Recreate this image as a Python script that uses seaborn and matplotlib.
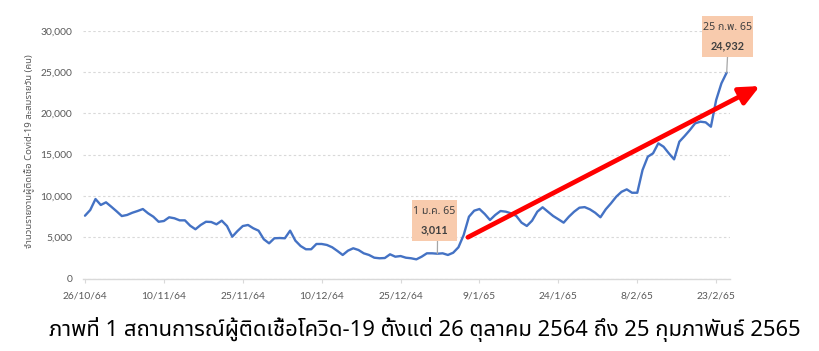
import numpy as np
import pandas as pd
import matplotlib
matplotlib.use("Agg")
import matplotlib.pyplot as plt
import seaborn as sns
from matplotlib import font_manager
from matplotlib.ft2font import FT2Font
from matplotlib.patches import Rectangle

# ---------------- data ----------------
day_index = list(range(123))  # 26 Oct 2021 (26/10/64) .. 25 Feb 2022 (25/2/65)
cases = [
    7610, 8300, 9630, 8910, 9230, 8700, 8150, 7570, 7700, 7970,
    8180, 8420, 7900, 7490, 6880, 6970, 7420, 7300, 7050, 7050,
    6400, 5970, 6490, 6880, 6850, 6570, 7010, 6360, 5070, 5760,
    6360, 6490, 6090, 5800, 4760, 4270, 4880, 4910, 4880, 5800,
    4590, 3940, 3550, 3550, 4190, 4190, 4070, 3790, 3340, 2860,
    3380, 3670, 3460, 3060, 2860, 2530, 2460, 2490, 2940, 2650,
    2730, 2530, 2460, 2330, 2650, 3060, 3060, 3011, 3060, 2860,
    3130, 3790, 5280, 7490, 8220, 8420, 7820, 7090, 7700, 8180,
    8100, 7900, 7580, 6770, 6370, 7010, 8100, 8630, 8100, 7580,
    7180, 6770, 7490, 8100, 8580, 8650, 8380, 7970, 7420, 8380,
    9110, 9910, 10500, 10800, 10390, 10390, 13140, 14750, 15160, 16370,
    15960, 15160, 14430, 16570, 17250, 17980, 18790, 18990, 18910, 18380,
    21610, 23630, 24932,
]
x_tick_days = [0, 15, 30, 45, 60, 75, 90, 105, 120]
x_tick_labels = ["26/10/64", "10/11/64", "25/11/64", "10/12/64", "25/12/64",
                 "9/1/65", "24/1/65", "8/2/65", "23/2/65"]
y_ticks = [0, 5000, 10000, 15000, 20000, 25000, 30000]
callout_days = [67, 122]
callout_dates = ["1 ม.ค. 65", "25 ก.พ. 65"]
y_label = "จำนวนรายงานผู้ติดเชื้อ Covid-19 สะสมรายวัน (คน)"
title = "ภาพที่ 1 สถานการณ์ผู้ติดเชื้อโควิด-19 ตั้งแต่ 26 ตุลาคม 2564 ถึง 25 กุมภาพันธ์ 2565"
trend_start = (72.8, 5000)
trend_end = (128.3, 23300)

df = pd.DataFrame({"day": day_index, "cases": cases})

# ---------------- fonts ----------------
def thai_family():
    pref = ["Noto Sans Thai", "Noto Sans Thai UI", "Noto Sans Thai Looped", "Tahoma",
            "Leelawadee UI", "Loma", "Garuda", "Waree", "Sawasdee", "Umpush",
            "Norasi", "Kinnari", "Laksaman"]
    found = {}
    for f in font_manager.fontManager.ttflist:
        try:
            cm = FT2Font(f.fname).get_charmap()
        except Exception:
            continue
        if 0x0E01 in cm and 0x0E2A in cm and 0x0E4C in cm:
            found.setdefault(f.name, f)
    for p in pref:
        if p in found:
            return p
    return next(iter(found), None)

sns.set_theme(style="white")
thai = thai_family()
base_fams = ["Lato", "DejaVu Sans"]
thai_fams = ([thai] if thai else []) + ["Lato", "DejaVu Sans"]
plt.rcParams["font.family"] = base_fams

W, H = 820, 351
fig = plt.figure(figsize=(W / 100, H / 100), dpi=100)
fig.patch.set_facecolor("white")

def fx(px):
    return px / W

def fy(py):
    return 1 - py / H

ax_left, ax_right, ax_top, ax_bottom = 83.3, 730, 30.7, 278.6
ax = fig.add_axes([fx(ax_left), fy(ax_bottom), fx(ax_right - ax_left), (ax_bottom - ax_top) / H])
ax.set_facecolor("white")

sns.lineplot(data=df, x="day", y="cases", ax=ax, color="#4472C4", linewidth=1.7)

ax.set_xlim(-0.32, 122.63)
ax.set_ylim(0, 30000)
ax.set_xticks(x_tick_days)
ax.set_xticklabels(x_tick_labels)
ax.set_yticks(y_ticks)
ax.set_yticklabels([f"{v:,}" for v in y_ticks])
ax.set_xlabel("")
ax.set_ylabel("")
for s in ["top", "right", "left"]:
    ax.spines[s].set_visible(False)
ax.spines["bottom"].set_color("#d9d9d9")
ax.spines["bottom"].set_linewidth(1.0)
ax.yaxis.grid(True, linestyle=(0, (2.2, 2.2)), color="#d9d9d9", linewidth=0.8)
ax.xaxis.grid(False)
ax.set_axisbelow(True)
ax.tick_params(axis="y", length=0, pad=8, labelsize=7.4, labelcolor="#595959")
ax.tick_params(axis="x", length=3, width=0.8, color="#d9d9d9", direction="out",
               pad=6, labelsize=7.4, labelcolor="#595959", bottom=True)

# trend arrow
ax.annotate("", xy=trend_end, xytext=trend_start, xycoords="data",
            annotation_clip=False,
            arrowprops=dict(arrowstyle="-|>,head_length=12,head_width=5.5",
                            mutation_scale=1, color="#FF0000", lw=3.4,
                            shrinkA=0, shrinkB=0))

# callouts
boxes = [(412, 200, 45, 41), (702, 16, 51, 41)]
for (bx, by, bw, bh), d, lab in zip(boxes, callout_days, callout_dates):
    val = cases[d]
    ax.annotate("", xy=(d, val), xycoords="data",
                xytext=(fx(bx + bw / 2 + (3 if d != 122 else 0)), fy(by + bh)),
                textcoords="figure fraction", annotation_clip=False,
                arrowprops=dict(arrowstyle="-", color="#a6a6a6", lw=0.9,
                                shrinkA=0, shrinkB=0))
    fig.add_artist(Rectangle((fx(bx), fy(by + bh)), fx(bw), bh / H,
                             transform=fig.transFigure, facecolor="#F8CBAD",
                             edgecolor="none", zorder=5))
    fig.text(fx(bx + bw / 2), fy(by + 11.5), lab, ha="center", va="center",
             fontsize=7.6, color="#404040", family=thai_fams, zorder=6,
             fontweight="bold")
    fig.text(fx(bx + bw / 2), fy(by + 29.5), f"{val:,}", ha="center", va="center",
             fontsize=7.8, color="#404040", family=["Lato", "DejaVu Sans"], zorder=6,
             fontweight="bold")

# y label
yl = fig.text(fx(30), fy(151.5), y_label, rotation=90, ha="center", va="center",
              fontsize=7, color="#595959", family=thai_fams)
# title
tt = fig.text(fx(425), fy(330), title, ha="center", va="center",
              fontsize=14, color="black", fontweight="bold", family=thai_fams)

# fit text lengths
fig.canvas.draw()
r = fig.canvas.get_renderer()
for t, target, horiz in [(tt, 750, True), (yl, 193, False)]:
    bb = t.get_window_extent(renderer=r)
    cur = bb.width if horiz else bb.height
    if cur > 0:
        t.set_fontsize(t.get_fontsize() * target / cur)

fig.savefig("out.png", dpi=100, facecolor="white")
